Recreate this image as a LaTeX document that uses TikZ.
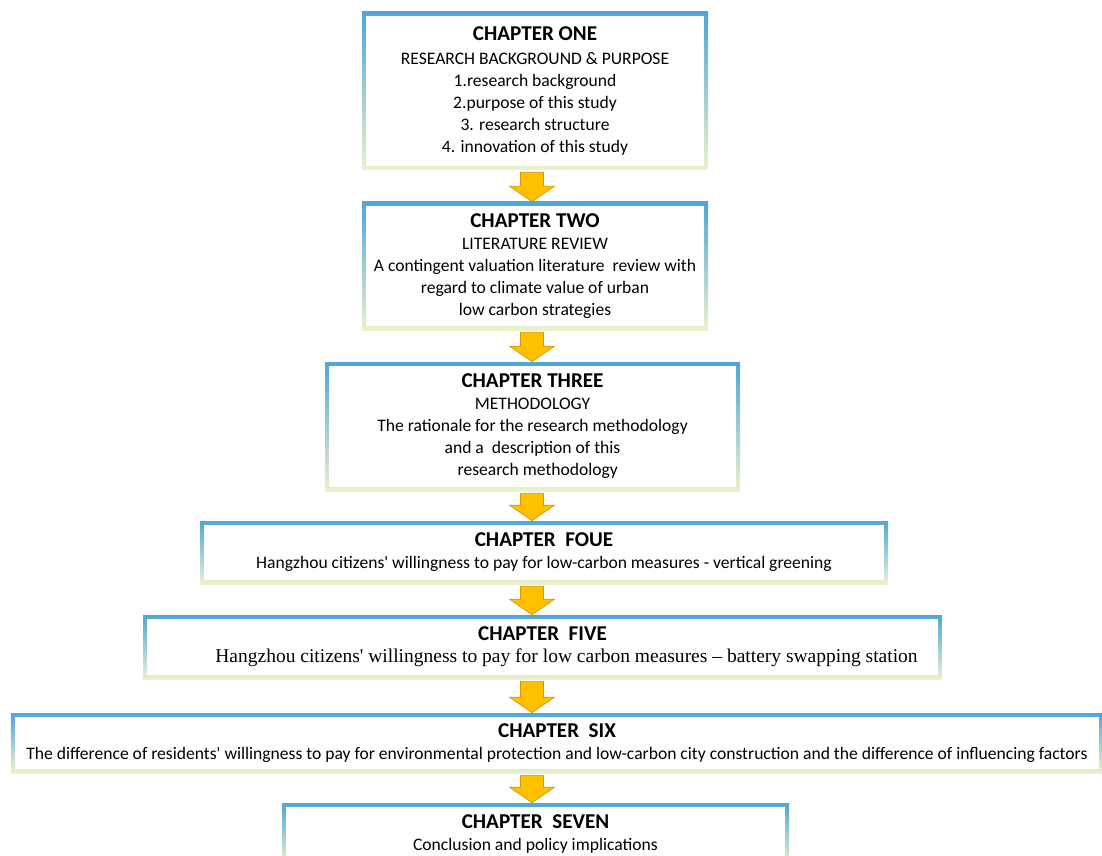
\documentclass[tikz,border=0pt]{standalone}
\usepackage{fontspec}
\setmainfont{Carlito}
\newfontfamily\timesfont{Liberation Serif}
\usetikzlibrary{calc}
\definecolor{chapblue}{RGB}{79,166,218}
\definecolor{chapyell}{RGB}{236,241,202}
\definecolor{arrfill}{RGB}{255,192,0}
\definecolor{arrdraw}{RGB}{214,150,0}
\newcommand\chaphead[1]{{\fontsize{12}{15}\selectfont\bfseries #1}}
\newcommand\chaparrow[2]{%
  \filldraw[blk] let \p1=(#1.south -| ax), \p2=(#2.north -| ax) in
    (\x1-0.23cm,\y1-0.04cm) -- (\x1+0.23cm,\y1-0.04cm) -- (\x1+0.23cm,\y2+0.31cm)
    -- (\x1+0.45cm,\y2+0.31cm) -- (\x2,\y2) -- (\x1-0.45cm,\y2+0.31cm)
    -- (\x1-0.23cm,\y2+0.31cm) -- cycle;}
\begin{document}
\begin{tikzpicture}[font=\fontsize{10}{12.5}\selectfont,
  chap/.style={shade,top color=chapblue,bottom color=chapyell,align=center,inner sep=0pt,
    path picture={\fill[white] ([shift={(0.08,0.08)}]path picture bounding box.south west)
      rectangle ([shift={(-0.08,-0.08)}]path picture bounding box.north east);}},
  blk/.style={fill=arrfill,draw=arrdraw,line width=0.4pt,line join=miter}]
\useasboundingbox (0,0) rectangle (22.04,-17.12);
\coordinate (ax) at (10.64,0);
\node[chap,minimum width=6.92cm,minimum height=3.16cm] (c1) at (10.70,-1.82)
  {\chaphead{CHAPTER ONE}\\[1pt] RESEARCH BACKGROUND \& PURPOSE\\ 1.research background\\
   2.purpose of this study\\ 3. research structure\\ 4. innovation of this study};
\node[chap,minimum width=6.92cm,minimum height=2.56cm] (c2) at (10.70,-5.32)
  {\chaphead{CHAPTER TWO}\\ LITERATURE REVIEW\\ A contingent valuation literature~ review with\\
   regard to climate value of urban\\ low carbon strategies};
\node[chap,minimum width=8.30cm,minimum height=2.58cm] (c3) at (10.65,-8.53)
  {\chaphead{CHAPTER THREE}\\ METHODOLOGY\\ The rationale for the research methodology\\
   and a~ description of this\hspace*{0.6em}\\ \hspace*{0.6em}research methodology};
\node[chap,minimum width=13.76cm,minimum height=1.26cm] (c4) at (10.88,-11.05)
  {\chaphead{CHAPTER~~FOUE}\\ Hangzhou citizens\textquotesingle\ willingness to pay for low-carbon measures - vertical greening};
\node[chap,minimum width=15.98cm,minimum height=1.28cm] (c5) at (10.85,-12.94)
  {\chaphead{CHAPTER~~FIVE}\\ \hspace*{0.96cm}{\timesfont\fontsize{11.1}{12.5}\selectfont Hangzhou citizens\textquotesingle\ willingness to pay for low carbon measures \textendash\ battery swapping station}};
\node[chap,minimum width=21.84cm,minimum height=1.20cm] (c6) at (11.14,-14.86)
  {\chaphead{CHAPTER~~SIX}\\ The difference of residents\textquotesingle\ willingness to pay for environmental protection and low-carbon city construction and the difference of influencing factors};
\node[chap,minimum width=10.14cm,minimum height=1.24cm] (c7) at (10.71,-16.68)
  {\chaphead{CHAPTER~~SEVEN}\\ Conclusion and policy implications};
\chaparrow{c1}{c2}
\chaparrow{c2}{c3}
\chaparrow{c3}{c4}
\chaparrow{c4}{c5}
\chaparrow{c5}{c6}
\chaparrow{c6}{c7}
\end{tikzpicture}
\end{document}
